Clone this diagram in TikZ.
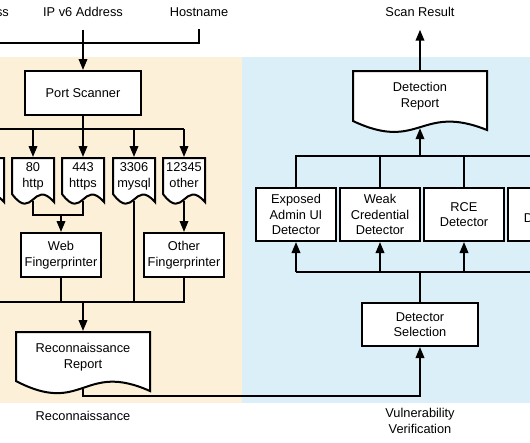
\documentclass[tikz,border=0pt]{standalone}
\usepackage{fontspec}
\setmainfont{Liberation Sans}
\usetikzlibrary{arrows.meta}
\definecolor{reconbg}{HTML}{FCF1D8}
\definecolor{vulnbg}{HTML}{DBEFF8}

\begin{document}
\begin{tikzpicture}[
    x=1pt, y=1pt,
    line width=2pt,
    font=\fontsize{12.8}{15.6}\selectfont,
    box/.style={rectangle, draw, fill=white, align=center, inner sep=2pt},
    doc/.style={rectangle, align=center, inner sep=1pt, text depth=8pt},
    docline/.style={draw, fill=white},
    txt/.style={align=center, inner xsep=2pt, inner ysep=12pt},
    >={Triangle[length=11pt,width=8.5pt]}
]
\useasboundingbox (0,0) rectangle (530,-442);

% Backgrounds
\fill[reconbg] (-60,-57) rectangle (242,-403);
\fill[vulnbg] (242,-57) rectangle (600,-403);

% Inputs
\node[txt] (ip4) at (-31,-12) {IP v4 Address};
\node[txt] (ip6) at (83,-12) {IP v6 Address};
\node[txt] (host) at (199,-12) {Hostname};
\node[txt] (scan) at (420,-12) {Scan Result};

% Documents: name/x/y/width/height/wave/text
\foreach \n/\x/\y/\w/\h/\d/\t in {
    p0/-17/-178.75/42/41.5/8/{},
    p1/33/-178.75/42/41.5/8/{80\\http},
    p2/83/-178.75/42/41.5/8/{443\\https},
    p3/134/-178.75/42/41.5/8/{3306\\mysql},
    p4/184/-178.75/42/41.5/8/{12345\\other},
    rr/83/-359.95/134/55.9/10/{Reconnaissance\\Report},
    dr/420/-99.1/134/56.2/9/{Detection\\Report}} {
    \draw[docline, shift={(\x,\y)}] ({-\w/2},{\h/2}) -- ({\w/2},{\h/2}) -- ({\w/2},{-\h/2-0.3125*\d})
        .. controls (0,{-\h/2+2.6875*\d}) and (0,{-\h/2-2.8125*\d}) .. ({-\w/2},{-\h/2+0.6875*\d}) -- cycle;
    \node[doc, minimum width=\w, minimum height=\h] (\n) at (\x,\y) {\t};
}

% Boxes
\node[box, minimum width=116pt, minimum height=44pt] (ps) at (83,-93) {Port Scanner};
\node[box, minimum width=80pt, minimum height=44pt] (wf) at (61,-255) {Web\\Fingerprinter};
\node[box, minimum width=80pt, minimum height=44pt] (of) at (184,-255) {Other\\Fingerprinter};
\foreach \i/\t in {1/{Exposed\\Admin UI\\Detector}, 2/{Weak\\Credential\\Detector}, 3/{RCE\\Detector}, 4/{\mbox{}\\Detector}} {
    \node[box, minimum width=80pt, minimum height=53pt] (d\i) at ({212+84*\i},-214.5) {\t};
}
\node[box, minimum width=116pt, minimum height=43pt] (ds) at (420,-324.5) {Detector\\Selection};

% Labels
\node (recon) at (83,-416) {Reconnaissance};
\node[align=center] (vuln) at (420,-421) {Vulnerability\\Verification};

% Connections
\coordinate (ij) at (83,-43);
\draw (ip4) |- (ij) -| (host);
\draw[->] (ip6) -- (ps);

\coordinate (pb) at (83,-129);
\draw (ps) -- (pb);
\draw (p0 |- pb) -- (p4 |- pb);
\foreach \i in {0,...,4} {
    \draw[->] (p\i |- pb) -- (p\i);
}

\coordinate (wj) at (61,-215);
\draw (p1) |- (wj) -| (p2);
\draw[->] (wj) -- (wf);
\draw[->] (p4) -- (of);

\coordinate (rj) at (83,-302);
\draw (p0) |- (rj);
\draw (wf) |- (rj);
\draw (p3) |- (rj);
\draw (of) |- (rj);
\draw[->] (rj) -- (rr);

\coordinate (rv) at (83,-396);
\draw[->] (rr) -- (rv) -| (ds);

\coordinate (db) at (420,-272);
\draw (ds) -- (db);
\draw (d1 |- db) -- (d4 |- db);
\foreach \i in {1,...,4} {
    \draw[->] (d\i |- db) -- (d\i);
}

\coordinate (dt) at (420,-156);
\draw (d1) |- (dt) -| (d4);
\draw (d2) -- (d2 |- dt);
\draw (d3) -- (d3 |- dt);
\draw[->] (dt) -- (dr);
\draw[->] (dr) -- (scan);
\end{tikzpicture}
\end{document}
